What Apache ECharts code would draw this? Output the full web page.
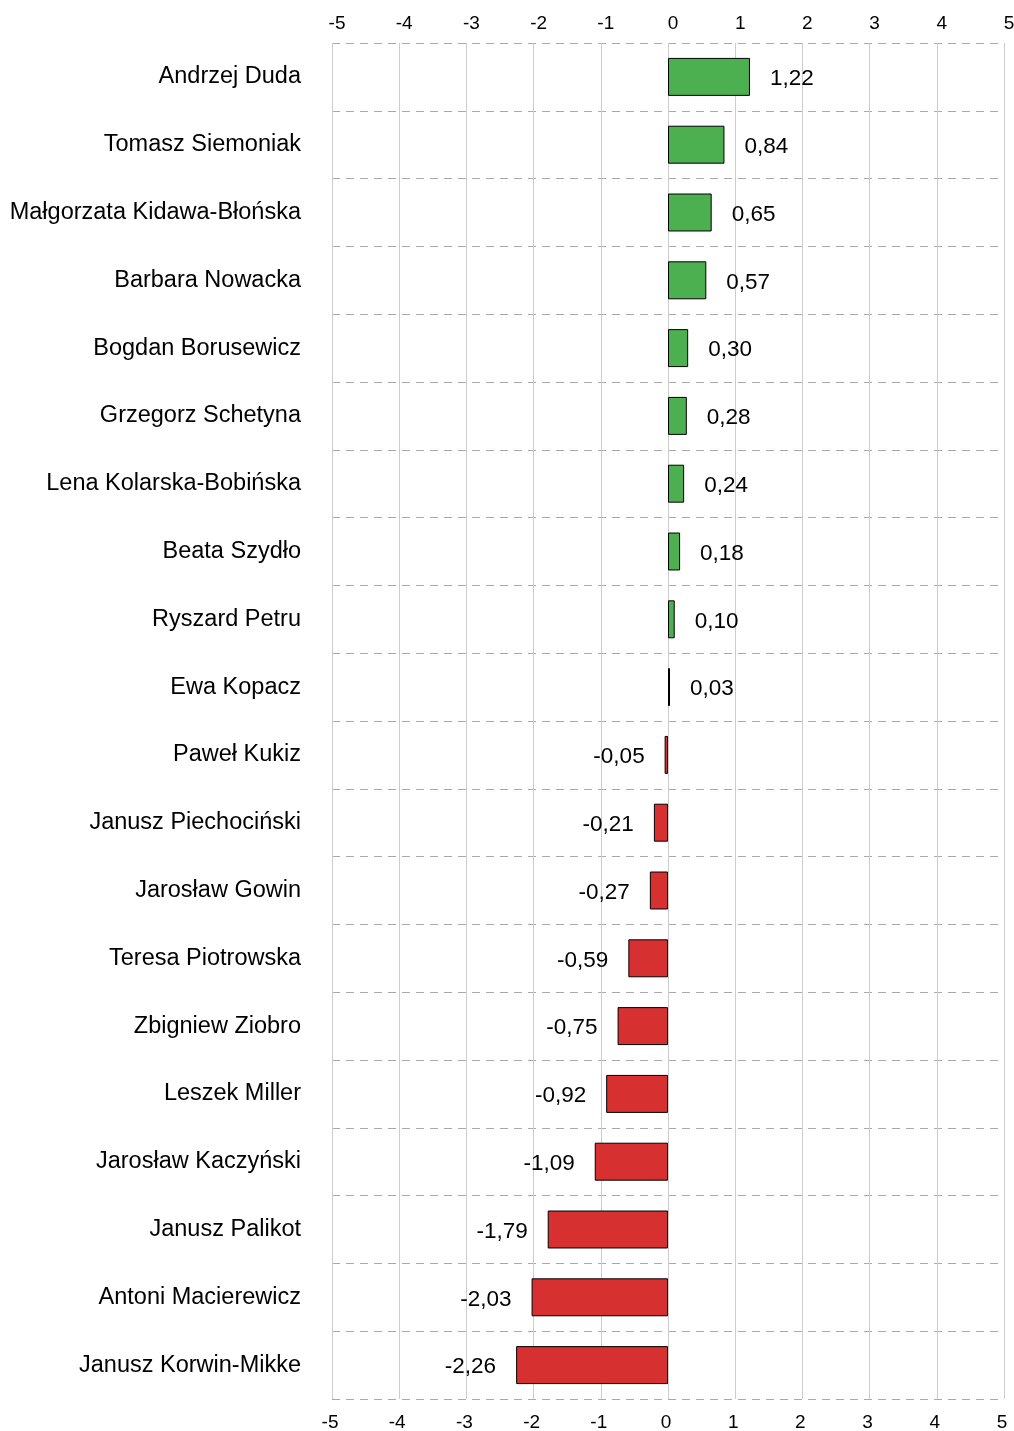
<!DOCTYPE html>
<html>
<head>
<meta charset="utf-8">
<script src="https://cdn.jsdelivr.net/npm/echarts@6/dist/echarts.min.js"></script>
<style>
  html, body { margin: 0; padding: 0; background: #fff; }
  #main_chart { width: 1014px; height: 1431px; }
</style>
</head>
<body>
<div id="main_chart"></div>
<script>
// kategorie od góry do dołu
var names = [
    'Andrzej Duda', 'Tomasz Siemoniak', 'Małgorzata Kidawa-Błońska', 'Barbara Nowacka',
    'Bogdan Borusewicz', 'Grzegorz Schetyna', 'Lena Kolarska-Bobińska', 'Beata Szydło',
    'Ryszard Petru', 'Ewa Kopacz', 'Paweł Kukiz', 'Janusz Piechociński', 'Jarosław Gowin',
    'Teresa Piotrowska', 'Zbigniew Ziobro', 'Leszek Miller', 'Jarosław Kaczyński',
    'Janusz Palikot', 'Antoni Macierewicz', 'Janusz Korwin-Mikke'
];
var values = [1.22, 0.84, 0.65, 0.57, 0.30, 0.28, 0.24, 0.18, 0.10, 0.03,
    -0.05, -0.21, -0.27, -0.59, -0.75, -0.92, -1.09, -1.79, -2.03, -2.26];
var xTicks = [-5, -4, -3, -2, -1, 0, 1, 2, 3, 4, 5];

var GREEN = '#4caf50';
var RED = '#d63031';
var FONT = 'Liberation Sans, Arial, sans-serif';

var chart = echarts.init(document.getElementById('main_chart'));

var barData = values.map(function (v) {
    var pos = v >= 0;
    return {
        value: v,
        itemStyle: { color: pos ? GREEN : RED },
        label: { position: pos ? 'right' : 'left' }
    };
});

function fmt(v) {
    return v.toFixed(2).replace('.', ',');
}

var option = {
    backgroundColor: '#fff',
    animation: false,
    grid: { left: 332, right: 10, top: 43, bottom: 32, containLabel: false, outerBoundsMode: 'none' },
    xAxis: [
        {
            type: 'value', position: 'bottom',
            min: xTicks[0], max: xTicks[xTicks.length - 1], interval: 1,
            axisLine: { show: false }, axisTick: { show: false },
            axisLabel: { color: '#000', fontFamily: FONT, fontSize: 19, margin: 14, padding: [0, 4, 0, 0] },
            splitLine: { show: true, lineStyle: { color: '#cccccc', width: 1, type: 'solid' } }
        },
        {
            type: 'value', position: 'top',
            min: xTicks[0], max: xTicks[xTicks.length - 1], interval: 1,
            axisLine: { show: false }, axisTick: { show: false },
            axisLabel: { color: '#000', fontFamily: FONT, fontSize: 19, margin: 10, padding: [0, 0, 0, 10] },
            splitLine: { show: false }
        }
    ],
    yAxis: {
        type: 'category', inverse: true, data: names,
        axisLine: { show: false }, axisTick: { show: false },
        axisLabel: { color: '#000', fontFamily: FONT, fontSize: 23.5, margin: 31, padding: [4, 0, 0, 0] },
        splitLine: { show: true, lineStyle: { color: '#aaaaaa', width: 1, type: [8, 6] } }
    },
    series: [{
        type: 'bar',
        xAxisIndex: 0,
        data: barData,
        barWidth: '56%',
        itemStyle: { borderColor: '#000', borderWidth: 1 },
        label: {
            show: true, distance: 20, offset: [0, 2], color: '#000', fontFamily: FONT, fontSize: 22.5,
            formatter: function (p) { return fmt(p.value); }
        }
    }]
};

chart.setOption(option);
</script>
</body>
</html>
